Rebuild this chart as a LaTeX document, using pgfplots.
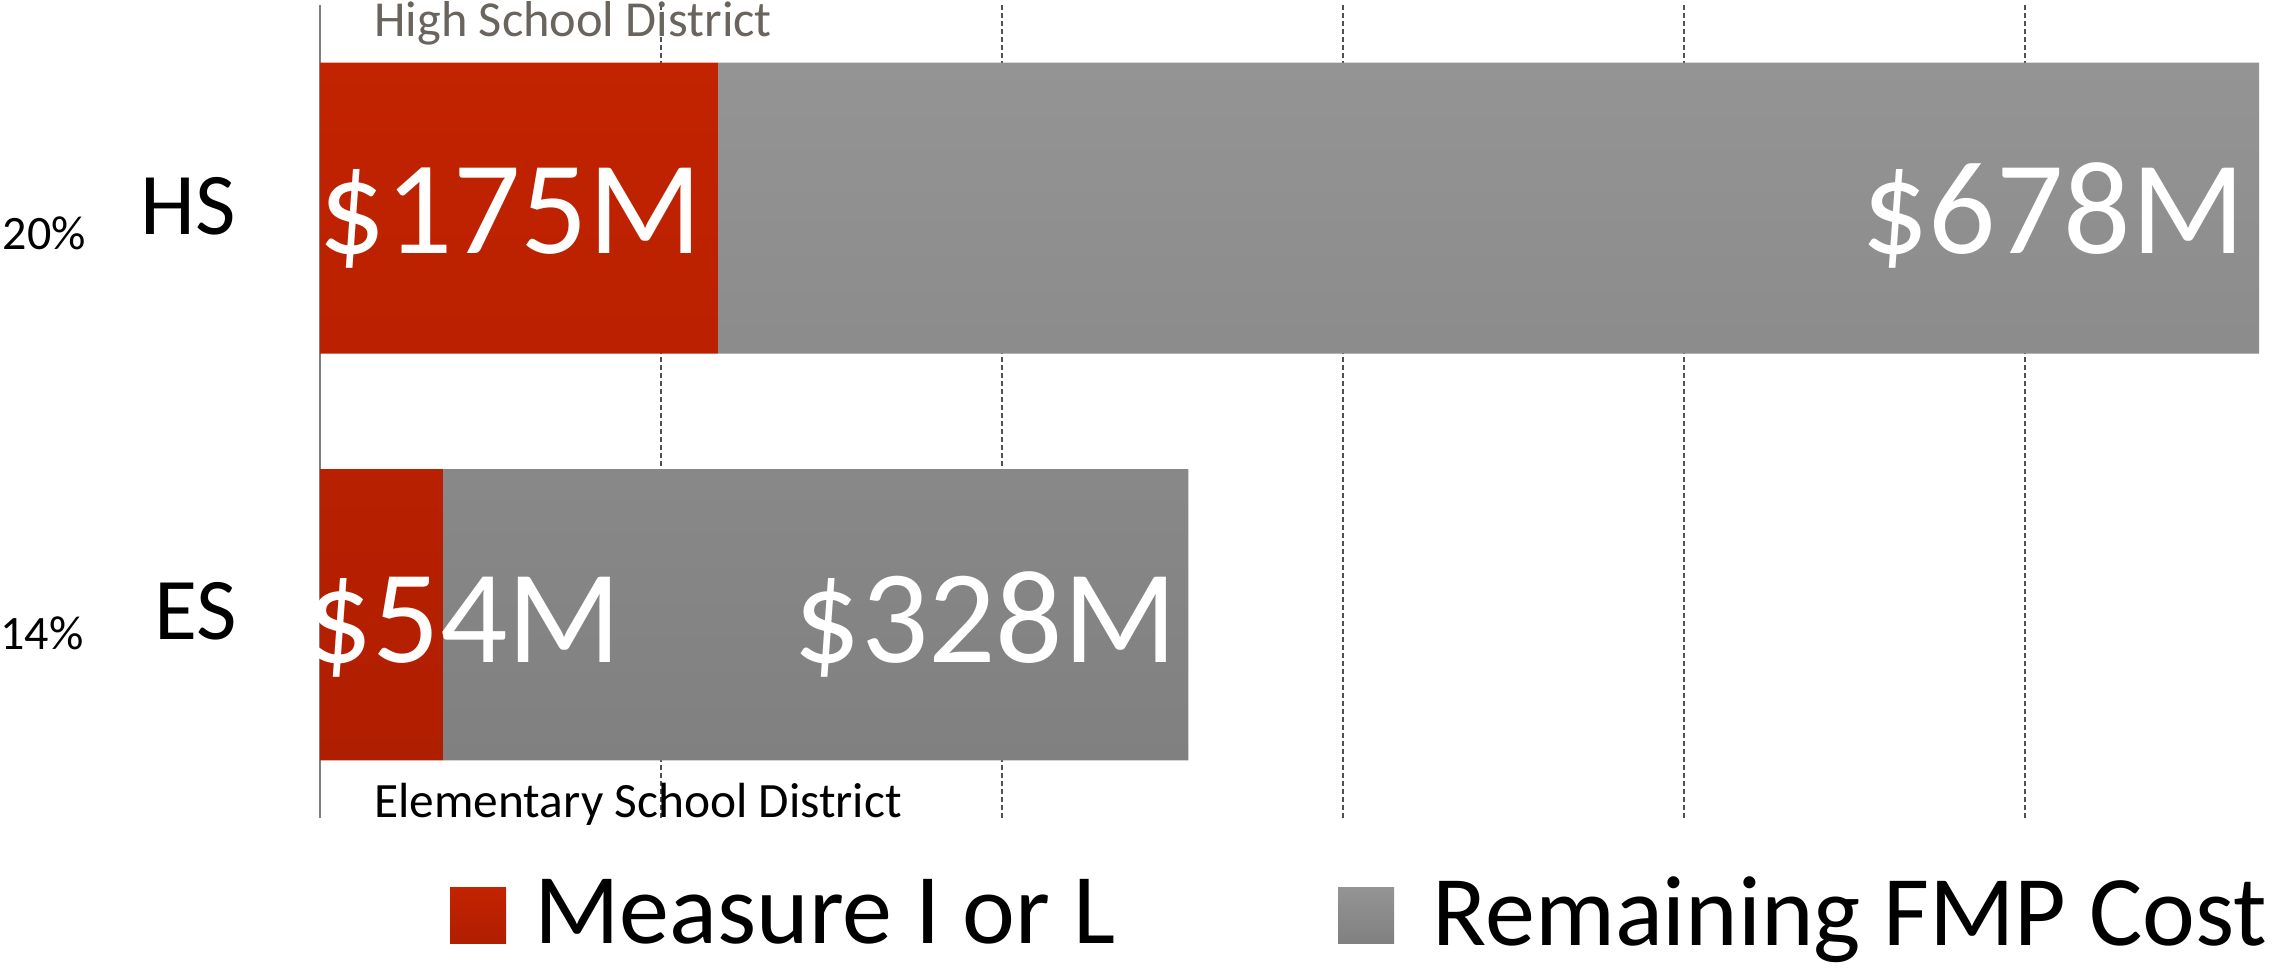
\documentclass[border=0pt]{standalone}
\usepackage{pgfplots}
\pgfplotsset{compat=1.18}
\usepackage{fontspec}
\setmainfont{Carlito}
\usepackage{graphicx}
\definecolor{redtop}{RGB}{194,35,0}
\definecolor{redbot}{RGB}{176,30,0}
\definecolor{graytop}{RGB}{148,148,148}
\definecolor{graybot}{RGB}{128,128,128}
\definecolor{distgray}{RGB}{106,100,94}
\definecolor{axisgray}{RGB}{128,128,128}
\definecolor{gridgray}{RGB}{80,80,80}
\newcommand\biglabel{\fontsize{66.5pt}{80pt}\selectfont}
\begin{document}
\begin{tikzpicture}
\path[use as bounding box] (0,0) rectangle (1142pt,484.5pt);
\begin{axis}[
  at={(160pt,75.5pt)}, anchor=south west,
  scale only axis, width=977.5pt, height=406.5pt,
  xbar stacked, bar width=145.5pt,
  xmin=0, xmax=860, ymin=-0.5, ymax=1.5,
  axis lines*=left,
  x axis line style={draw=none},
  y axis line style={draw=axisgray, line width=1pt},
  xtick={150,300,450,600,750}, xticklabels={},
  ytick=\empty,
  major tick length=0pt,
  xmajorgrids,
  grid style={draw=gridgray, line width=1pt, dash pattern=on 2.5pt off 1.5pt},
  legend columns=2,
  legend style={at={(axis description cs:0,0)}, anchor=south west,
    xshift=65pt, yshift=-65.3pt, draw=none, fill=none, inner sep=0pt, outer sep=0pt,
    font=\fontsize{50pt}{60pt}\selectfont, nodes={inner sep=0pt},
    /tikz/column 1/.style={column sep=14.2pt},
    /tikz/column 2/.style={column sep=111.5pt},
    /tikz/column 3/.style={column sep=19.3pt}},
  legend image code/.code={\path[#1] (0pt,-15.5pt) rectangle (28pt,12.5pt);},
]
\addplot[draw=none, top color=redtop, bottom color=redbot] coordinates {(54,0) (175,1)};
\addplot[draw=none, top color=graytop, bottom color=graybot] coordinates {(328,0) (678,1)};
\legend{Measure I or L, Remaining FMP Cost}
\coordinate (hsA) at (axis cs:0,1);
\coordinate (hsB) at (axis cs:853,1);
\coordinate (esA) at (axis cs:0,0);
\coordinate (esB) at (axis cs:382,0);
\end{axis}
\node[anchor=base west, inner sep=0pt, text=white, font=\biglabel, xshift=-1pt, yshift=-22.5pt] at (hsA) {\$175M};
\node[anchor=base east, inner sep=0pt, text=white, font=\biglabel, xshift=-7pt, yshift=-22.5pt] at (hsB) {\$678M};
\node[anchor=base west, inner sep=0pt, text=white, font=\biglabel, xshift=-7.5pt, yshift=-24pt] at (esA) {\$54M};
\node[anchor=base east, inner sep=0pt, text=white, font=\biglabel, xshift=-5.5pt, yshift=-24pt] at (esB) {\$328M};
\node[anchor=base west, inner sep=0pt, text=distgray, font=\fontsize{25.2pt}{30pt}\selectfont] at (187pt,466pt) {High School District};
\node[anchor=base west, inner sep=0pt, text=black, font=\fontsize{24.7pt}{30pt}\selectfont] at (187pt,76pt) {Elementary School District};
\node[anchor=base east, inner sep=0pt, font=\fontsize{44pt}{52pt}\selectfont] at (118pt,367pt) {HS};
\node[anchor=base east, inner sep=0pt, font=\fontsize{44pt}{52pt}\selectfont] at (118.5pt,164.5pt) {ES};
\node[anchor=base west, inner sep=0pt, font=\fontsize{24pt}{29pt}\selectfont] at (1.2pt,359.5pt) {20\%};
\node[anchor=base west, inner sep=0pt, font=\fontsize{24pt}{29pt}\selectfont] at (0pt,159.5pt) {14\%};
\end{tikzpicture}
\end{document}
